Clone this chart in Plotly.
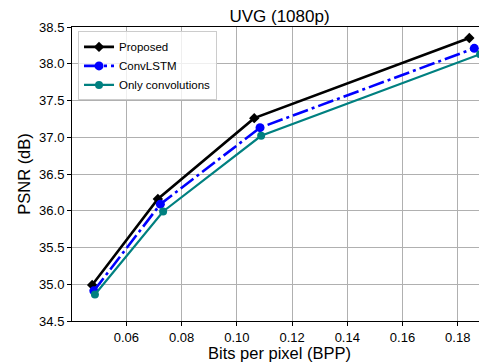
import plotly.graph_objects as go

bpp_proposed = [0.0476, 0.0714, 0.1063, 0.1842]
psnr_proposed = [34.99, 36.16, 37.26, 38.35]
bpp_convlstm = [0.0482, 0.0723, 0.1084, 0.1860]
psnr_convlstm = [34.91, 36.09, 37.13, 38.21]
bpp_conv = [0.0486, 0.0733, 0.1088, 0.1881]
psnr_conv = [34.86, 35.99, 37.02, 38.13]

x_ticks = [0.06, 0.08, 0.10, 0.12, 0.14, 0.16, 0.18]
x_tick_labels = ["0.06", "0.08", "0.10", "0.12", "0.14", "0.16", "0.18"]
y_ticks = [34.5, 35.0, 35.5, 36.0, 36.5, 37.0, 37.5, 38.0, 38.5]
y_tick_labels = ["34.5", "35.0", "35.5", "36.0", "36.5", "37.0", "37.5", "38.0", "38.5"]

font_family = "Liberation Sans, Arial, sans-serif"

fig = go.Figure()
fig.add_trace(go.Scatter(
    x=bpp_proposed, y=psnr_proposed, mode="lines+markers", name="Proposed",
    line=dict(color="black", width=2.6),
    marker=dict(symbol="diamond", size=8, color="black"),
))
fig.add_trace(go.Scatter(
    x=bpp_convlstm, y=psnr_convlstm, mode="lines+markers", name="ConvLSTM",
    line=dict(color="blue", width=2.6, dash="16px,4px,3px,4px"),
    marker=dict(symbol="circle", size=9, color="blue"),
))
fig.add_trace(go.Scatter(
    x=bpp_conv, y=psnr_conv, mode="lines+markers", name="Only convolutions",
    line=dict(color="#008080", width=2.2),
    marker=dict(symbol="circle", size=8, color="#008080"),
))

axis_common = dict(
    showline=True, linecolor="black", linewidth=1, mirror=True,
    ticks="outside", ticklen=4, tickcolor="black", tickwidth=1,
    showgrid=True, gridcolor="#b0b0b0", gridwidth=0.8,
    zeroline=False, tickfont=dict(size=13, color="black", family=font_family),
)

W, H = 479, 354
fig.update_layout(
    width=W, height=H,
    margin=dict(l=64, r=0, t=19, b=41),
    paper_bgcolor="white", plot_bgcolor="white",
    font=dict(family=font_family, color="black"),
    title=dict(text="UVG (1080p)", x=0.5, xanchor="center", xref="paper",
               y=1 - 8 / H, yanchor="middle", font=dict(size=17)),
    xaxis=dict(range=[0.0403, 0.1906], tickvals=x_ticks, ticktext=x_tick_labels,
               title=dict(text="Bits per pixel (BPP)", font=dict(size=16.5), standoff=3),
               **axis_common),
    yaxis=dict(range=[34.5, 38.5], tickvals=y_ticks, ticktext=y_tick_labels,
               title=dict(text="PSNR (dB)", font=dict(size=16.5), standoff=4),
               **axis_common),
    legend=dict(x=0.0145, y=0.985, xanchor="left", yanchor="top",
                bgcolor="rgba(255,255,255,0.8)", bordercolor="#cccccc", borderwidth=1,
                font=dict(size=11.5, family=font_family), tracegroupgap=0,
                itemwidth=30),
    showlegend=True,
)

fig.write_html("out.html")
